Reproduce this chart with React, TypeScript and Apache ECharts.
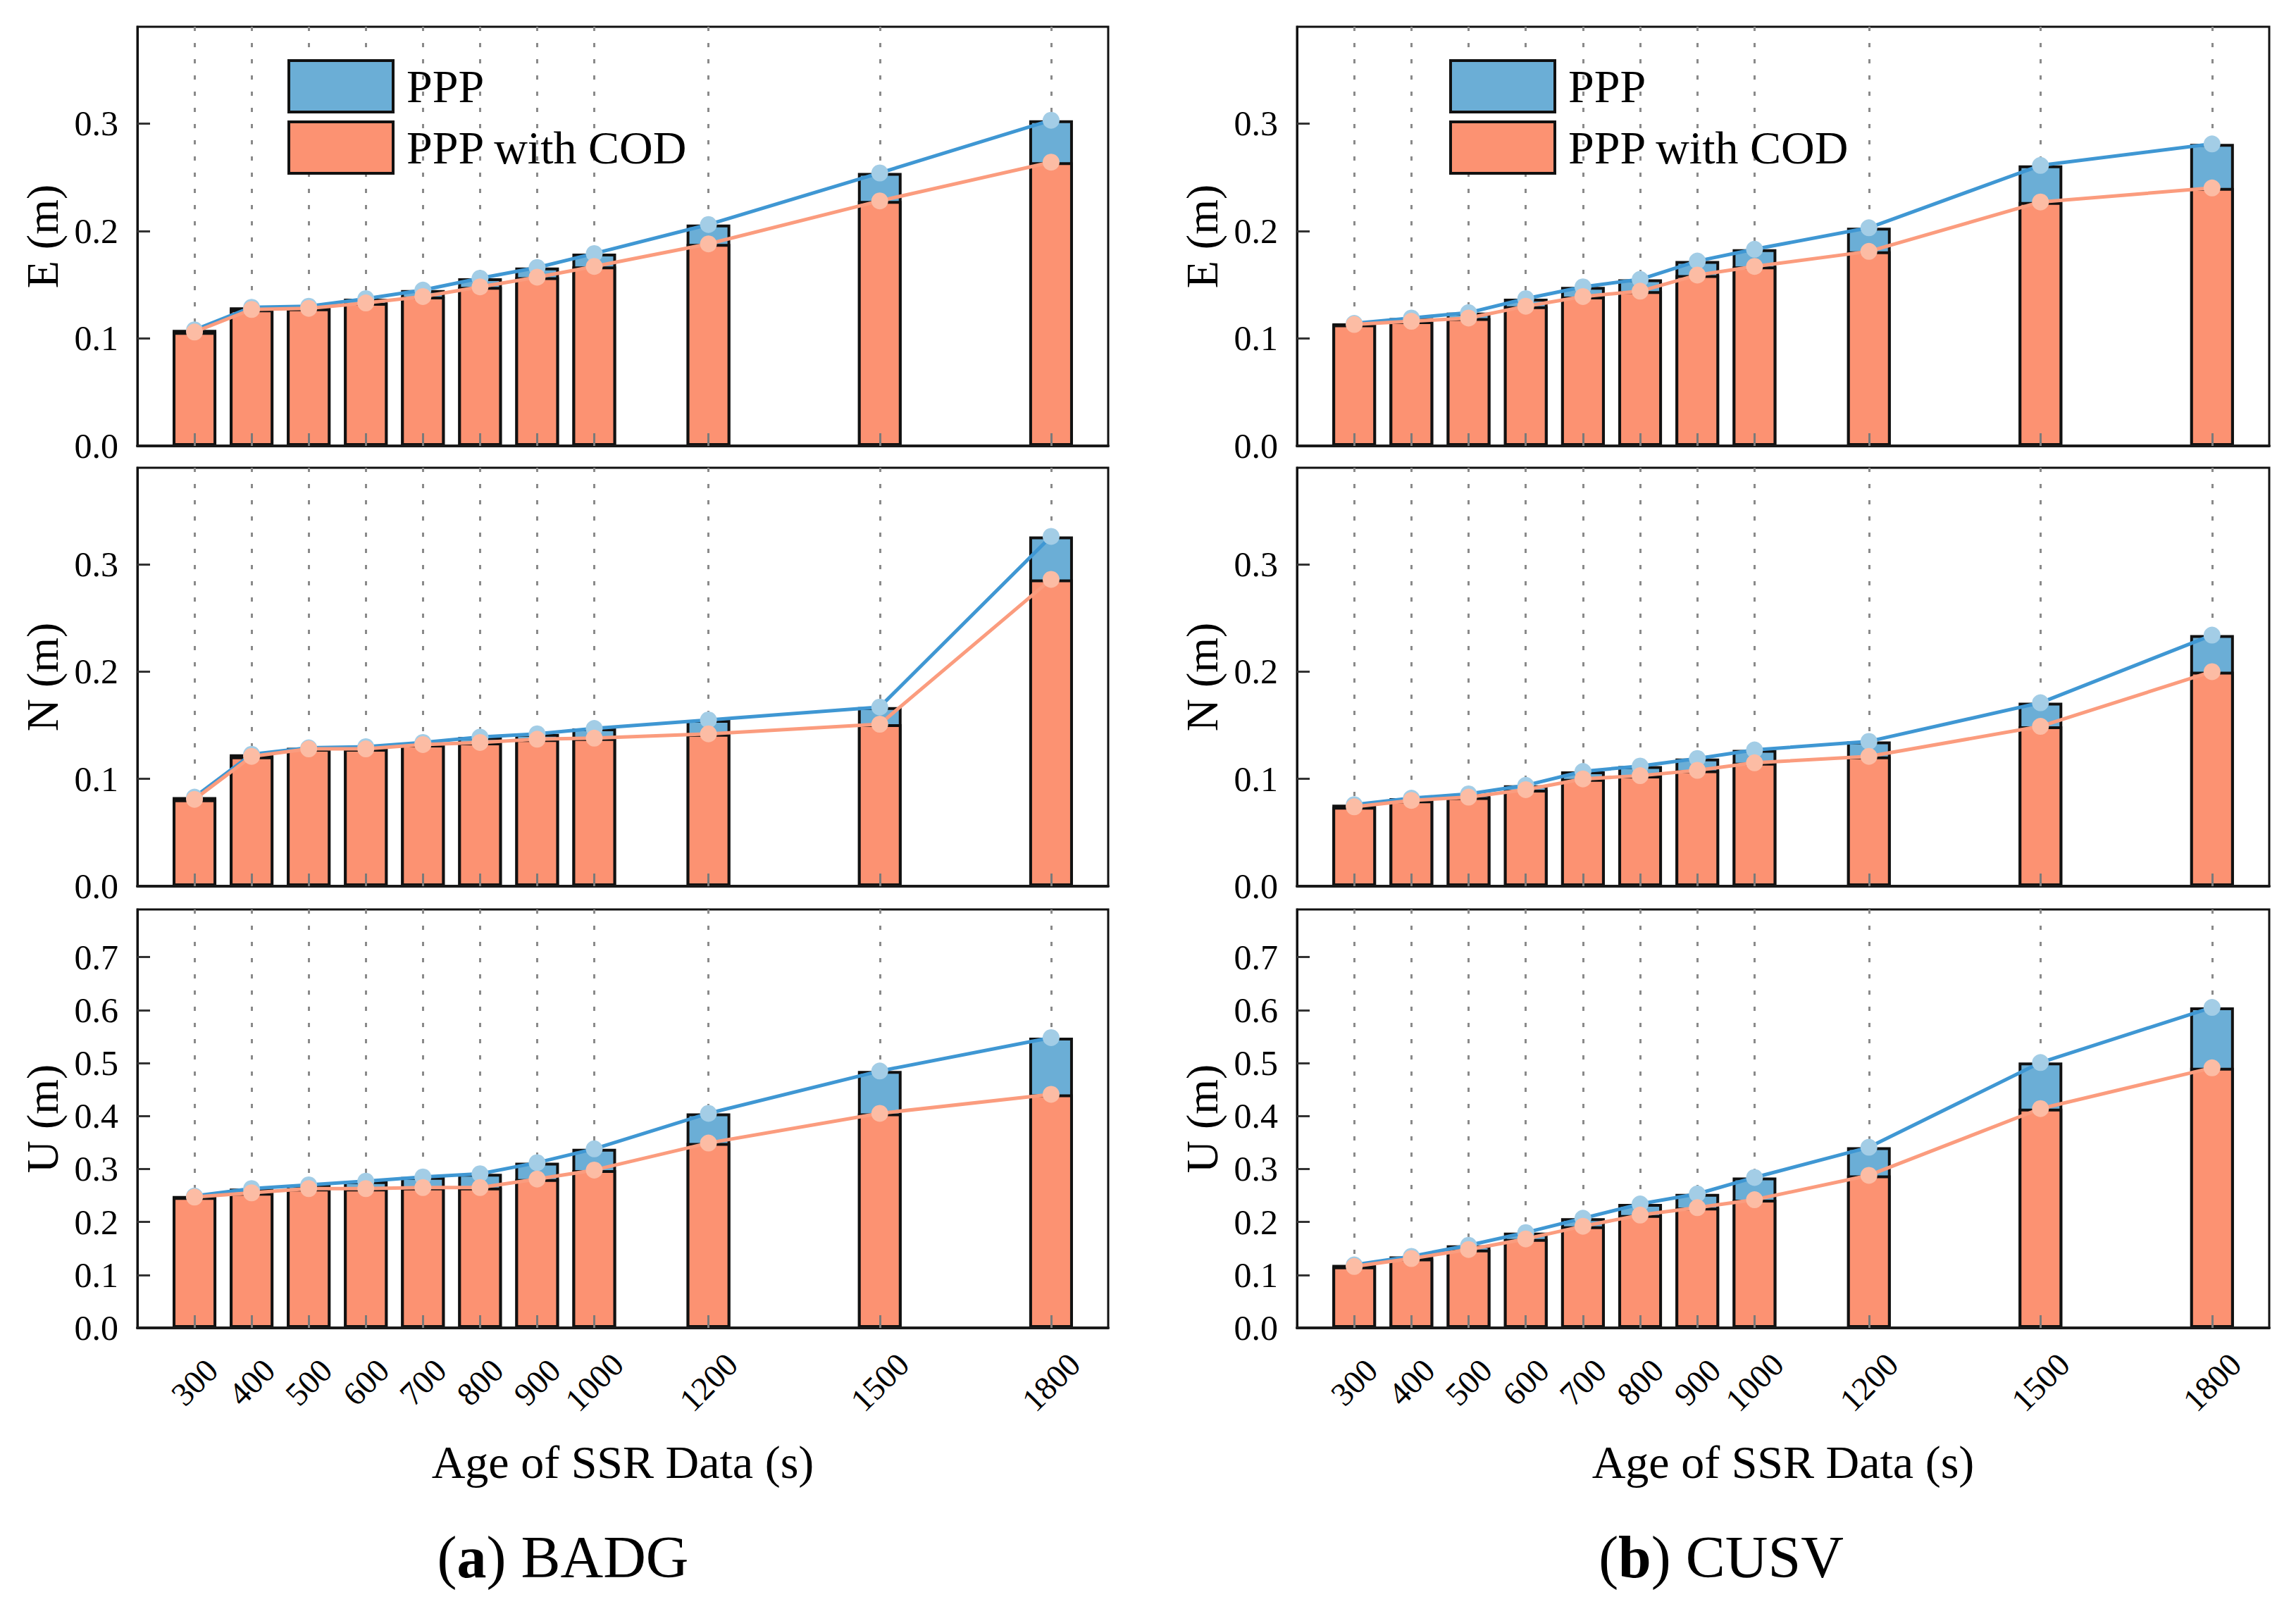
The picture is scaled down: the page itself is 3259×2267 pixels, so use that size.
import React, { useEffect, useRef } from "react";
import * as echarts from "echarts";

const ages = [300, 400, 500, 600, 700, 800, 900, 1000, 1200, 1500, 1800];

// (a) BADG
const badgE_PPP = [0.108, 0.129, 0.130, 0.137, 0.145, 0.156, 0.166, 0.179, 0.206, 0.254, 0.303];
const badgE_COD = [0.106, 0.127, 0.128, 0.133, 0.139, 0.148, 0.157, 0.167, 0.188, 0.228, 0.264];
const badgN_PPP = [0.083, 0.123, 0.129, 0.130, 0.134, 0.139, 0.142, 0.147, 0.155, 0.167, 0.326];
const badgN_COD = [0.081, 0.121, 0.128, 0.128, 0.132, 0.134, 0.137, 0.138, 0.142, 0.151, 0.286];
const badgU_PPP = [0.249, 0.263, 0.270, 0.277, 0.285, 0.291, 0.312, 0.338, 0.405, 0.485, 0.548];
const badgU_COD = [0.247, 0.255, 0.263, 0.263, 0.265, 0.265, 0.281, 0.298, 0.349, 0.405, 0.441];

// (b) CUSV
const cusvE_PPP = [0.114, 0.119, 0.124, 0.137, 0.148, 0.155, 0.172, 0.183, 0.203, 0.261, 0.281];
const cusvE_COD = [0.113, 0.116, 0.119, 0.130, 0.139, 0.144, 0.159, 0.167, 0.181, 0.227, 0.240];
const cusvN_PPP = [0.076, 0.082, 0.086, 0.094, 0.107, 0.112, 0.119, 0.127, 0.135, 0.171, 0.234];
const cusvN_COD = [0.074, 0.080, 0.083, 0.090, 0.100, 0.103, 0.108, 0.115, 0.121, 0.149, 0.200];
const cusvU_PPP = [0.119, 0.135, 0.156, 0.180, 0.207, 0.234, 0.253, 0.284, 0.341, 0.501, 0.605];
const cusvU_COD = [0.116, 0.131, 0.148, 0.168, 0.192, 0.213, 0.227, 0.242, 0.288, 0.414, 0.491];

const yTitles = ["E (m)", "N (m)", "U (m)"];
const yMax = [0.39, 0.39, 0.79];
const seriesNames = ["PPP", "PPP with COD"];
const xTitle = "Age of SSR Data (s)";
const captions = [
  { letter: "a", station: "BADG" },
  { letter: "b", station: "CUSV" },
];

const columns = [
  [
    [badgE_PPP, badgE_COD],
    [badgN_PPP, badgN_COD],
    [badgU_PPP, badgU_COD],
  ],
  [
    [cusvE_PPP, cusvE_COD],
    [cusvN_PPP, cusvN_COD],
    [cusvU_PPP, cusvU_COD],
  ],
];

const FONT = '"Liberation Serif", "Times New Roman", serif';
const W = 3259;
const H = 2267;

const gridLeft = [195, 1841];
const gridWidth = [1378, 1380];
const gridTop = [38, 664, 1291];
const gridHeight = [595, 594, 594];
const legendPos = [
  { left: 408, top: 84 },
  { left: 2057, top: 84 },
];
const captionPos = [
  { x: 799, y: 2210 },
  { x: 2443, y: 2210 },
];

const BAR_BLUE = "#6baed6";
const BAR_ORANGE = "#fc9272";
const LINE_BLUE = "#3f97d3";
const LINE_ORANGE = "#fb9c7e";
const MARK_BLUE = "#a3cde6";
const MARK_ORANGE = "#fcbca4";

function buildOption() {
  const grid: any[] = [];
  const xAxis: any[] = [];
  const yAxis: any[] = [];
  const series: any[] = [];

  for (let c = 0; c < 2; c++) {
    for (let r = 0; r < 3; r++) {
      const g = grid.length;
      grid.push({
        left: gridLeft[c],
        top: gridTop[r],
        width: gridWidth[c],
        height: gridHeight[r],
        show: true,
        borderColor: "#111",
        borderWidth: 3,
        backgroundColor: "transparent",
      });
      const isBottom = r === 2;
      xAxis.push({
        type: "value",
        gridIndex: g,
        min: 200,
        max: 1900,
        position: "bottom",
        z: 5,
        axisLine: { show: true, lineStyle: { color: "#1a1a1a", width: 4 } },
        axisTick: {
          show: true,
          customValues: ages,
          inside: true,
          length: 18,
          lineStyle: { color: "#7a7a7a", width: 3 },
        },
        axisLabel: {
          show: isBottom,
          customValues: ages,
          rotate: 45,
          align: "center",
          verticalAlign: "middle",
          margin: 77,
          fontSize: 47,
          fontFamily: FONT,
          color: "#000",
          formatter: (v: number) => String(v),
        },
        splitLine: { show: false },
        name: isBottom ? xTitle : "",
        nameLocation: "middle",
        nameGap: 190,
        nameTextStyle: {
          fontSize: 66,
          fontFamily: FONT,
          color: "#000",
          align: "center",
          verticalAlign: "middle",
        },
      });
      xAxis.push({
        type: "value",
        gridIndex: g,
        min: 200,
        max: 1900,
        position: "top",
        z: 0,
        axisLine: { show: false },
        axisTick: { show: false, customValues: ages },
        axisLabel: { show: false, customValues: ages },
        splitLine: {
          show: true,
          lineStyle: { color: "#8a8a8a", width: 3, type: [6, 17] },
        },
      });
      yAxis.push({
        type: "value",
        gridIndex: g,
        min: 0,
        max: yMax[r],
        interval: 0.1,
        axisLine: { show: true, lineStyle: { color: "#111", width: 3 } },
        axisTick: {
          show: true,
          inside: true,
          length: 18,
          lineStyle: { color: "#333", width: 3 },
        },
        axisLabel: {
          fontSize: 50,
          fontFamily: FONT,
          color: "#000",
          margin: 27,
          showMaxLabel: false,
          formatter: (v: number) => v.toFixed(1),
        },
        splitLine: { show: false },
        name: yTitles[r],
        nameLocation: "middle",
        nameRotate: 90,
        nameGap: 135,
        nameTextStyle: {
          fontSize: 64,
          fontFamily: FONT,
          color: "#000",
          align: "center",
          verticalAlign: "middle",
        },
      });

      const [ppp, cod] = columns[c][r];
      const xi = g * 2;
      const pppData = ages.map((a, i) => [a, ppp[i]]);
      const codData = ages.map((a, i) => [a, cod[i]]);
      series.push({
        type: "bar",
        name: seriesNames[0],
        xAxisIndex: xi,
        yAxisIndex: g,
        data: pppData,
        barWidth: 62,
        barGap: "-100%",
        itemStyle: { color: BAR_BLUE, borderColor: "#111", borderWidth: 4 },
        z: 2,
      });
      series.push({
        type: "bar",
        name: seriesNames[1],
        xAxisIndex: xi,
        yAxisIndex: g,
        data: codData,
        barWidth: 62,
        barGap: "-100%",
        itemStyle: { color: BAR_ORANGE, borderColor: "#111", borderWidth: 4 },
        z: 2,
      });
      series.push({
        type: "line",
        name: seriesNames[0] + " line",
        xAxisIndex: xi,
        yAxisIndex: g,
        data: pppData,
        symbol: "circle",
        symbolSize: 24,
        showSymbol: true,
        lineStyle: { color: LINE_BLUE, width: 5 },
        itemStyle: { color: MARK_BLUE, borderWidth: 0 },
        z: 3,
      });
      series.push({
        type: "line",
        name: seriesNames[1] + " line",
        xAxisIndex: xi,
        yAxisIndex: g,
        data: codData,
        symbol: "circle",
        symbolSize: 24,
        showSymbol: true,
        lineStyle: { color: LINE_ORANGE, width: 5 },
        itemStyle: { color: MARK_ORANGE, borderWidth: 0 },
        z: 4,
      });
    }
  }

  const legend = legendPos.map((p) => ({
    left: p.left,
    top: p.top,
    orient: "vertical",
    data: seriesNames,
    icon: "rect",
    itemWidth: 148,
    itemHeight: 73,
    itemGap: 10,
    selectedMode: false,
    padding: 0,
    itemStyle: { borderColor: "#111", borderWidth: 4 },
    textStyle: {
      fontSize: 66,
      fontFamily: FONT,
      color: "#000",
      padding: [0, 0, 0, 14],
    },
  }));

  const graphic = captions.map((cap, i) => ({
    type: "text",
    x: captionPos[i].x,
    y: captionPos[i].y,
    style: {
      text: "({bold|" + cap.letter + "}) " + cap.station,
      fontSize: 84,
      fontFamily: FONT,
      fill: "#000",
      textAlign: "center",
      textVerticalAlign: "middle",
      rich: {
        bold: { fontSize: 84, fontFamily: FONT, fontWeight: "bold", fill: "#000" },
      },
    },
  }));

  return {
    animation: false,
    backgroundColor: "#fff",
    textStyle: { fontFamily: FONT },
    grid,
    xAxis,
    yAxis,
    legend,
    graphic,
    series,
  };
}

export default function App() {
  const ref = useRef<HTMLDivElement>(null);
  useEffect(() => {
    if (!ref.current) return;
    const chart = echarts.init(ref.current, undefined, { renderer: "svg" });
    chart.setOption(buildOption() as any);
    return () => chart.dispose();
  }, []);
  return (
    <div
      ref={ref}
      style={{ position: "absolute", left: 0, top: 0, width: W, height: H, background: "#fff" }}
    />
  );
}
